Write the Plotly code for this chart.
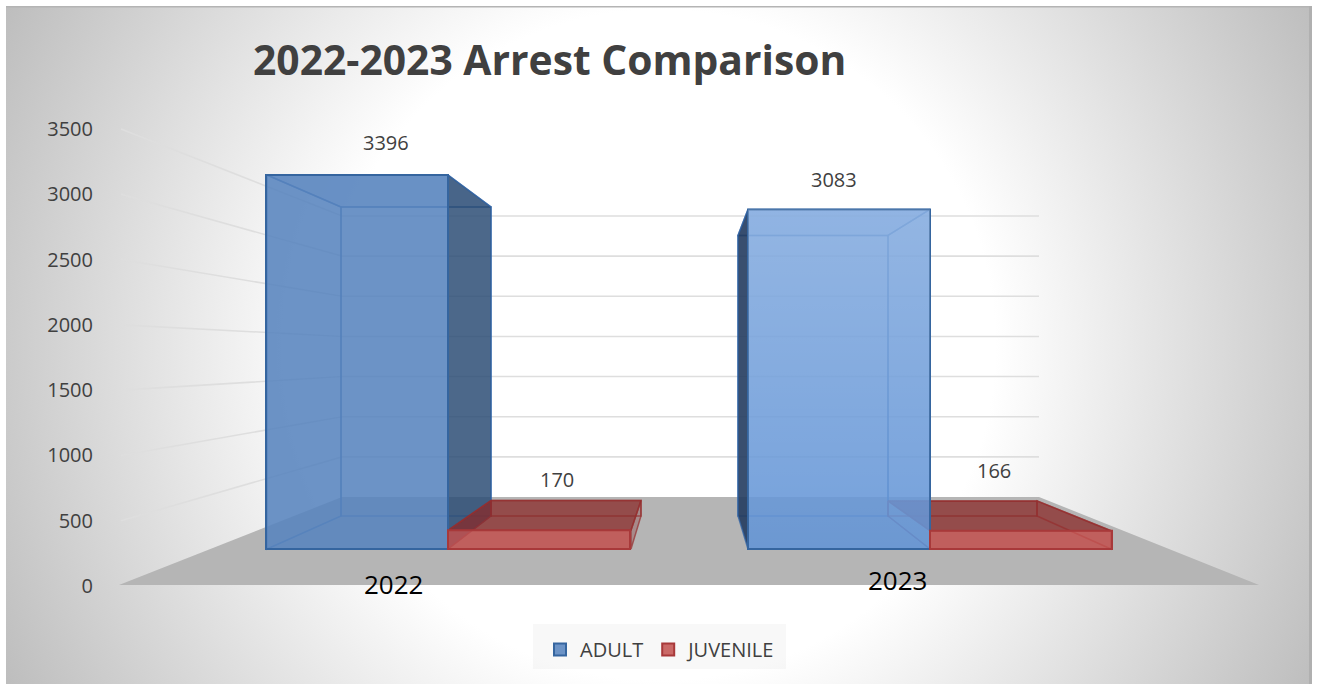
import urllib.parse
import plotly.graph_objects as go

# ---- data ----
years = ["2022", "2023"]
adult = [3396, 3083]
juvenile = [170, 166]
ticks = [0, 500, 1000, 1500, 2000, 2500, 3000, 3500]

W, H = 1317, 684
FONT = "Open Sans"

# ---- depth planes of the fake 3-D scene: (pixel of zero, pixels per unit) ----
AXIS = (586, (586 - 129) / 3500)
FRONT = (549, (549 - 175) / 3396)
BACK = (516, (516 - 207) / 3396)
WALL = (497, (497 - 216) / 3500)


def on_plane(v, plane):
    return plane[0] - v * plane[1]


def main_y(py):
    return (AXIS[0] - py) / AXIS[1]


def plane_y(v, plane):
    return main_y(on_plane(v, plane))


traces = []

# floor
traces.append(go.Scatter(
    x=[119, 342, 1039, 1259, 119],
    y=[main_y(585), main_y(497), main_y(497), main_y(585), main_y(585)],
    mode="lines", fill="toself", fillcolor="rgb(181,181,181)",
    line=dict(width=0), showlegend=False, hoverinfo="skip"))

# gridlines: left wall + back wall
for t in ticks[1:]:
    traces.append(go.Scatter(
        x=[121, 342, 1039], y=[plane_y(t, AXIS), plane_y(t, WALL), plane_y(t, WALL)],
        mode="lines", line=dict(color="#dedede", width=1.6),
        showlegend=False, hoverinfo="skip"))


def poly(xs, pys, fill, line=None, lw=1.5):
    traces.append(go.Scatter(
        x=xs, y=[main_y(p) for p in pys], mode="lines",
        fill="toself" if fill else None, fillcolor=fill,
        line=dict(color=line or "rgba(0,0,0,0)", width=lw if line else 0),
        showlegend=False, hoverinfo="skip"))


def box(v, fx, bx, side, edge, top, sidefill):
    """Hidden faces and edges of one column; the front face is the bar itself."""
    ft, fb = on_plane(v, FRONT), on_plane(0, FRONT)
    bt, bb = on_plane(v, BACK), on_plane(0, BACK)
    # back rectangle
    poly([bx[0], bx[1], bx[1], bx[0], bx[0]], [bt, bt, bb, bb, bt], None, edge)
    # top face
    poly([fx[0], fx[1], bx[1], bx[0], fx[0]], [ft, ft, bt, bt, ft], top, edge)
    # outer side
    i = 1 if side == "right" else 0
    poly([fx[i], bx[i], bx[i], fx[i], fx[i]], [ft, bt, bb, fb, ft], sidefill, edge)
    # inner side edges
    j = 1 - i
    poly([fx[j], bx[j], bx[j], fx[j], fx[j]], [ft, bt, bb, fb, ft], None, edge)


BLUE_EDGE = "rgba(50,100,165,0.75)"
RED_EDGE = "rgba(150,45,45,0.7)"
RED_TOP = "rgba(137,41,40,0.75)"
box(adult[0], (267, 448), (341, 491), "right", BLUE_EDGE, "rgba(90,135,195,0.18)", "rgba(45,78,118,0.85)")
box(juvenile[0], (448, 631), (491, 641), "right", RED_EDGE, RED_TOP, "rgba(137,41,40,0.3)")
box(adult[1], (748, 930), (738, 888), "left", BLUE_EDGE, "rgba(110,160,225,0.18)", "rgba(35,60,95,0.9)")
box(juvenile[1], (930, 1111), (888, 1037), "right", RED_EDGE, RED_TOP, None)

# front faces, drawn through the library's bar scale
idx = [0, 1]
traces.append(go.Bar(
    x=idx, y=adult, name="ADULT", xaxis="x2", yaxis="y2",
    marker=dict(color=["rgba(88,132,190,0.88)", "rgba(98,148,214,0.88)"],
                line=dict(color="#35659f", width=2)),
    hoverinfo="skip"))
traces.append(go.Bar(
    x=idx, y=juvenile, name="JUVENILE", xaxis="x2", yaxis="y2",
    marker=dict(color="rgba(194,80,78,0.85)", line=dict(color="#a8393a", width=2)),
    hoverinfo="skip"))

# lighter top of the 2023 column
BAR_W = 182 / 482
traces.append(go.Scatter(
    x=[1 - BAR_W, 1, 1, 1 - BAR_W, 1 - BAR_W],
    y=[0, 0, adult[1], adult[1], 0],
    xaxis="x2", yaxis="y2", mode="lines", fill="toself",
    line=dict(width=0), showlegend=False, hoverinfo="skip",
    fillgradient=dict(type="vertical", start=adult[1], stop=0,
                      colorscale=[[0, "rgba(255,255,255,0.22)"], [1, "rgba(255,255,255,0)"]])))

# ---- background as a radial gradient ----
svg = f'''<svg xmlns="http://www.w3.org/2000/svg" width="1306" height="678" viewBox="0 0 1306 678">
<defs><radialGradient id="g" gradientUnits="userSpaceOnUse" cx="654" cy="339" r="745">
<stop offset="0.45" stop-color="#ffffff"/><stop offset="1" stop-color="#bcbcbc"/></radialGradient></defs>
<rect width="1306" height="678" fill="url(#g)"/>
<rect width="1306" height="1.5" fill="#b4b4b4"/>
<rect x="1303" width="3" height="678" fill="#b0b0b0"/>
</svg>'''
bg = "data:image/svg+xml," + urllib.parse.quote(svg)

ann = []
def label(text, px, py, size, color):
    ann.append(dict(text=text, x=px / W, y=1 - py / H, xref="paper", yref="paper",
                    xanchor="center", yanchor="middle", showarrow=False,
                    font=dict(family=FONT, size=size, color=color)))

for s, px, py in [(adult[0], 386, 143), (juvenile[0], 557, 479), (adult[1], 834, 180), (juvenile[1], 994, 470)]:
    label(str(s), px, py, 20, "#404040")
label(years[0], 393, 584, 26, "#000000")
label(years[1], 897, 580, 26, "#000000")

AX_LEFT = 94
fig = go.Figure(traces)
fig.update_layout(
    width=W, height=H, autosize=False,
    margin=dict(l=0, r=0, t=0, b=0),
    paper_bgcolor="white", plot_bgcolor="rgba(0,0,0,0)",
    title=dict(text="<b>2022-2023 Arrest Comparison</b>", x=253 / W, xanchor="left", xref="paper",
               y=1 - 61 / H, yanchor="middle", yref="paper",
               font=dict(family=FONT, size=40.8, color="#404040")),
    barmode="group", bargap=1 - 364 / 482, bargroupgap=0,
    images=[dict(source=bg, xref="paper", yref="paper", x=6 / W, y=1 - 6 / H,
                 sizex=1306 / W, sizey=678 / H, sizing="stretch", layer="below",
                 xanchor="left", yanchor="top")],
    shapes=[dict(type="rect", xref="paper", yref="paper", x0=533 / W, x1=786 / W,
                 y0=1 - 669 / H, y1=1 - 624 / H, fillcolor="rgba(120,120,120,0.05)",
                 line=dict(width=0), layer="below")],
    xaxis=dict(domain=[AX_LEFT / W, 1], range=[AX_LEFT, W], visible=False, fixedrange=True),
    yaxis=dict(domain=[0, 1], range=[main_y(H), main_y(0)], tickvals=ticks, ticktext=[str(t) for t in ticks],
               showgrid=False, zeroline=False, showline=False, ticks="",
               tickfont=dict(family=FONT, size=20, color="#404040"), fixedrange=True),
    xaxis2=dict(overlaying="x", type="linear",
                range=[(AX_LEFT - 448) / 482, (W - 448) / 482], visible=False, fixedrange=True),
    yaxis2=dict(overlaying="y", side="right",
                range=[(FRONT[0] - H) / FRONT[1], FRONT[0] / FRONT[1]], visible=False, fixedrange=True),
    legend=dict(orientation="h", x=540 / W, y=1 - 630 / H, xanchor="left", yanchor="top",
                bgcolor="rgba(0,0,0,0)", font=dict(family=FONT, size=20, color="#404040"),
                itemwidth=30, traceorder="normal"),
    annotations=ann,
)
fig.write_html("out.html", config=dict(displayModeBar=False),
               post_script="document.body.style.margin='0';")
